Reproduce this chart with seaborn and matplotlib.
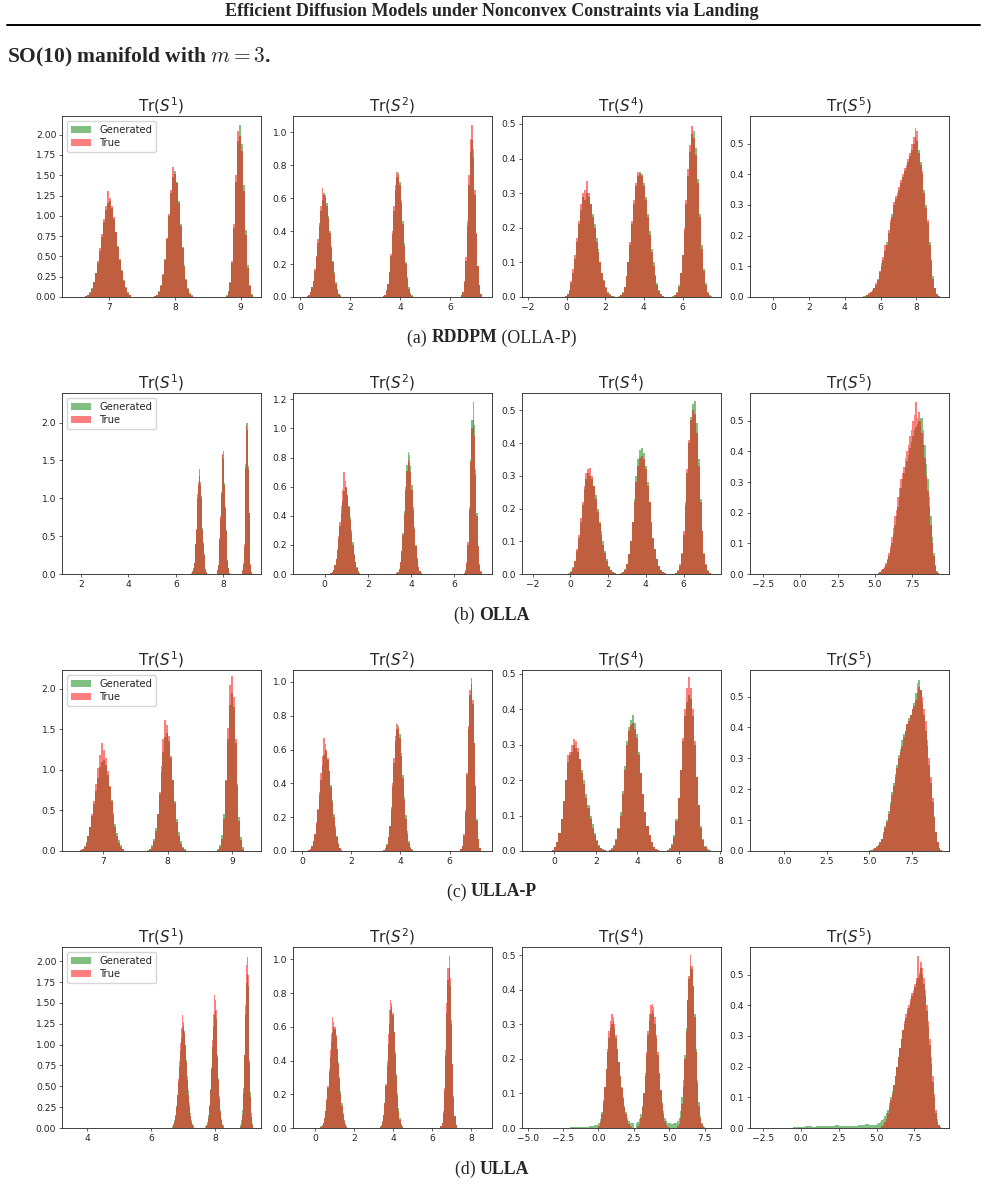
import numpy as np
import matplotlib
matplotlib.use("Agg")
import matplotlib.pyplot as plt
from matplotlib.ticker import MultipleLocator
from matplotlib.lines import Line2D
import seaborn as sns

# ---------------- data ----------------
titles = [r"Tr($S^1$)", r"Tr($S^2$)", r"Tr($S^4$)", r"Tr($S^5$)"]
captions = [("(a) ", "RDDPM", " (OLLA-P)"), ("(b) ", "OLLA", ""),
            ("(c) ", "ULLA-P", ""), ("(d) ", "ULLA", "")]
series_labels = ["Generated", "True"]

# peak centres and bin width of each peak, per statistic
s1_center, s1_w = [6.98, 7.98, 8.98], [0.03, 0.03, 0.03]
s2_center, s2_w = [0.95, 3.9, 6.85], [0.06, 0.06, 0.06]
s4_center, s4_w = [1.2, 3.85, 6.5], [0.1, 0.1, 0.1]
s5_center, s5_w = [7.15], [0.1]

# (a) RDDPM (OLLA-P)
a_s1_gen = [[0.01, 0.03, 0.06, 0.11, 0.19, 0.29, 0.42, 0.57, 0.74, 0.92, 1.07, 1.16, 1.18, 1.10, 0.96, 0.80,
             0.63, 0.47, 0.33, 0.21, 0.12, 0.06, 0.02],
            [0.01, 0.03, 0.07, 0.15, 0.28, 0.47, 0.72, 1.00, 1.28, 1.48, 1.55, 1.42, 1.18, 0.90, 0.62, 0.39,
             0.22, 0.11, 0.05, 0.02],
            [0.02, 0.07, 0.18, 0.42, 0.85, 1.42, 1.92, 2.12, 1.88, 1.38, 0.82, 0.40, 0.15, 0.04]]
a_s1_true = [[0.01, 0.02, 0.05, 0.10, 0.18, 0.30, 0.44, 0.60, 0.78, 0.96, 1.12, 1.30, 1.22, 1.12, 0.98, 0.80,
              0.62, 0.46, 0.32, 0.20, 0.11, 0.05, 0.02],
             [0.01, 0.02, 0.06, 0.14, 0.27, 0.46, 0.73, 1.02, 1.32, 1.60, 1.52, 1.40, 1.16, 0.88, 0.60, 0.37,
              0.21, 0.10, 0.04, 0.01],
             [0.01, 0.06, 0.17, 0.44, 0.90, 1.50, 2.05, 1.98, 1.80, 1.30, 0.76, 0.36, 0.13, 0.03]]
a_s2_gen = [[0.005, 0.015, 0.03, 0.06, 0.10, 0.16, 0.24, 0.33, 0.43, 0.52, 0.59, 0.63, 0.62, 0.57, 0.49, 0.40,
             0.31, 0.22, 0.15, 0.09, 0.05, 0.02, 0.01],
            [0.005, 0.015, 0.04, 0.08, 0.15, 0.25, 0.38, 0.52, 0.65, 0.73, 0.75, 0.70, 0.59, 0.46, 0.33, 0.21,
             0.12, 0.06, 0.025, 0.01],
            [0.01, 0.03, 0.09, 0.22, 0.43, 0.68, 0.88, 0.95, 0.84, 0.62, 0.38, 0.19, 0.07, 0.02]]
a_s2_true = [[0.004, 0.012, 0.03, 0.06, 0.10, 0.17, 0.25, 0.35, 0.45, 0.55, 0.66, 0.62, 0.60, 0.55, 0.48, 0.39,
              0.30, 0.21, 0.14, 0.08, 0.045, 0.02, 0.008],
             [0.004, 0.013, 0.035, 0.08, 0.15, 0.26, 0.40, 0.55, 0.68, 0.76, 0.74, 0.68, 0.57, 0.44, 0.31, 0.20,
              0.11, 0.05, 0.02, 0.008],
             [0.01, 0.03, 0.10, 0.24, 0.46, 0.74, 0.96, 1.04, 0.90, 0.65, 0.39, 0.19, 0.07, 0.02]]
a_s4_gen = [[0.003, 0.01, 0.02, 0.04, 0.07, 0.11, 0.16, 0.21, 0.25, 0.29, 0.28, 0.30, 0.29, 0.27, 0.24, 0.21,
             0.17, 0.14, 0.10, 0.07, 0.05, 0.03, 0.015, 0.008, 0.004, 0.002],
            [0.002, 0.006, 0.015, 0.03, 0.06, 0.10, 0.15, 0.21, 0.27, 0.32, 0.35, 0.36, 0.355, 0.33, 0.29,
             0.24, 0.19, 0.14, 0.10, 0.065, 0.04, 0.02, 0.01, 0.004],
            [0.002, 0.006, 0.015, 0.035, 0.07, 0.12, 0.19, 0.27, 0.35, 0.42, 0.47, 0.48, 0.43, 0.34, 0.24,
             0.15, 0.08, 0.04, 0.015, 0.005, 0.002]]
a_s4_true = [[0.002, 0.008, 0.02, 0.045, 0.08, 0.12, 0.17, 0.22, 0.27, 0.30, 0.31, 0.335, 0.30, 0.27, 0.23, 0.20,
              0.16, 0.13, 0.10, 0.07, 0.045, 0.025, 0.013, 0.007, 0.003, 0.001],
             [0.001, 0.005, 0.013, 0.03, 0.06, 0.10, 0.16, 0.22, 0.28, 0.33, 0.36, 0.355, 0.35, 0.32, 0.28,
              0.23, 0.18, 0.13, 0.09, 0.06, 0.035, 0.018, 0.008, 0.003],
             [0.001, 0.005, 0.013, 0.03, 0.07, 0.12, 0.20, 0.28, 0.37, 0.44, 0.495, 0.46, 0.41, 0.33, 0.23,
              0.14, 0.075, 0.035, 0.013, 0.004, 0.001]]
a_s5_gen = [[0.002, 0.004, 0.006, 0.01, 0.015, 0.02, 0.03, 0.04, 0.06, 0.08, 0.10, 0.12, 0.15, 0.18, 0.21,
             0.24, 0.27, 0.30, 0.32, 0.34, 0.35, 0.37, 0.39, 0.41, 0.42, 0.44, 0.46, 0.48, 0.50, 0.52,
             0.51, 0.48, 0.44, 0.40, 0.35, 0.30, 0.24, 0.18, 0.12, 0.07, 0.03, 0.01, 0.003]]
a_s5_true = [[0.001, 0.003, 0.007, 0.012, 0.016, 0.022, 0.028, 0.045, 0.055, 0.085, 0.11, 0.13, 0.17, 0.17, 0.22,
              0.25, 0.26, 0.31, 0.33, 0.33, 0.36, 0.38, 0.40, 0.42, 0.43, 0.45, 0.47, 0.50, 0.52, 0.55,
              0.54, 0.47, 0.43, 0.41, 0.34, 0.29, 0.25, 0.17, 0.12, 0.06, 0.03, 0.01, 0.002]]

# (b) OLLA
b_s1_gen = [[0.01, 0.02, 0.04, 0.08, 0.15, 0.26, 0.40, 0.58, 0.79, 1.00, 1.18, 1.30, 1.33, 1.22, 1.03, 0.82,
             0.61, 0.42, 0.27, 0.15, 0.07, 0.03, 0.01],
            [0.00, 0.02, 0.05, 0.12, 0.25, 0.45, 0.73, 1.05, 1.36, 1.57, 1.63, 1.48, 1.20, 0.88, 0.58, 0.34,
             0.18, 0.08, 0.03, 0.01],
            [0.01, 0.04, 0.13, 0.35, 0.78, 1.40, 2.00, 2.27, 2.00, 1.42, 0.80, 0.36, 0.12, 0.03]]
b_s1_true = [[0.00, 0.01, 0.03, 0.07, 0.14, 0.25, 0.40, 0.60, 0.82, 1.05, 1.22, 1.38, 1.28, 1.18, 1.00, 0.79,
              0.58, 0.40, 0.25, 0.14, 0.07, 0.03, 0.01],
             [0.00, 0.02, 0.05, 0.12, 0.26, 0.47, 0.76, 1.08, 1.36, 1.58, 1.52, 1.42, 1.18, 0.87, 0.57, 0.33,
              0.17, 0.08, 0.03, 0.01],
             [0.01, 0.05, 0.15, 0.40, 0.85, 1.45, 1.95, 2.10, 1.90, 1.38, 0.80, 0.38, 0.13, 0.03]]
b_s2_gen = [[0.004, 0.012, 0.03, 0.06, 0.10, 0.16, 0.24, 0.33, 0.42, 0.50, 0.57, 0.60, 0.59, 0.54, 0.47, 0.39,
             0.30, 0.22, 0.14, 0.08, 0.045, 0.02, 0.008],
            [0.004, 0.013, 0.035, 0.08, 0.16, 0.28, 0.43, 0.60, 0.75, 0.84, 0.82, 0.74, 0.61, 0.46, 0.32, 0.20,
             0.11, 0.05, 0.02, 0.007],
            [0.005, 0.02, 0.07, 0.20, 0.44, 0.78, 1.06, 1.18, 1.02, 0.72, 0.42, 0.19, 0.06, 0.015]]
b_s2_true = [[0.004, 0.012, 0.03, 0.06, 0.10, 0.17, 0.26, 0.36, 0.47, 0.58, 0.70, 0.64, 0.60, 0.54, 0.46, 0.37,
              0.28, 0.20, 0.13, 0.08, 0.04, 0.02, 0.007],
             [0.004, 0.013, 0.035, 0.08, 0.16, 0.27, 0.41, 0.57, 0.71, 0.78, 0.76, 0.70, 0.58, 0.44, 0.31, 0.19,
              0.10, 0.05, 0.02, 0.007],
             [0.006, 0.025, 0.08, 0.22, 0.46, 0.77, 1.00, 1.06, 0.95, 0.68, 0.40, 0.19, 0.07, 0.02]]
b_s4_gen = [[0.002, 0.008, 0.02, 0.04, 0.07, 0.11, 0.16, 0.21, 0.26, 0.29, 0.31, 0.30, 0.29, 0.27, 0.24, 0.20,
             0.16, 0.13, 0.10, 0.07, 0.045, 0.025, 0.012, 0.006, 0.003, 0.001],
            [0.002, 0.006, 0.015, 0.03, 0.06, 0.10, 0.16, 0.23, 0.30, 0.35, 0.38, 0.385, 0.37, 0.33, 0.28,
             0.22, 0.16, 0.11, 0.075, 0.045, 0.025, 0.012, 0.005, 0.002],
            [0.001, 0.004, 0.01, 0.025, 0.06, 0.12, 0.21, 0.31, 0.40, 0.48, 0.52, 0.53, 0.46, 0.35, 0.23,
             0.13, 0.065, 0.03, 0.012, 0.004, 0.001]]
b_s4_true = [[0.001, 0.006, 0.018, 0.04, 0.075, 0.12, 0.17, 0.22, 0.27, 0.31, 0.32, 0.325, 0.30, 0.27, 0.23,
              0.19, 0.155, 0.12, 0.09, 0.065, 0.04, 0.022, 0.011, 0.005, 0.002, 0.001],
             [0.001, 0.005, 0.013, 0.03, 0.06, 0.10, 0.16, 0.22, 0.28, 0.33, 0.355, 0.36, 0.35, 0.32, 0.27,
              0.22, 0.16, 0.11, 0.075, 0.045, 0.025, 0.012, 0.005, 0.002],
             [0.001, 0.004, 0.012, 0.03, 0.065, 0.13, 0.22, 0.32, 0.41, 0.47, 0.50, 0.49, 0.43, 0.33, 0.22,
              0.13, 0.06, 0.027, 0.01, 0.003, 0.001]]
b_s5_gen = [[0.0, 0.0, 0.002, 0.005, 0.01, 0.015, 0.02, 0.03, 0.045, 0.06, 0.08, 0.10, 0.13, 0.16, 0.19,
             0.22, 0.25, 0.28, 0.31, 0.33, 0.35, 0.37, 0.39, 0.41, 0.43, 0.45, 0.47, 0.48, 0.49, 0.50,
             0.51, 0.51, 0.47, 0.42, 0.36, 0.31, 0.25, 0.19, 0.12, 0.07, 0.03, 0.01, 0.003]]
b_s5_true = [[0.0, 0.0, 0.003, 0.006, 0.012, 0.016, 0.024, 0.035, 0.05, 0.07, 0.09, 0.12, 0.15, 0.19, 0.21,
              0.25, 0.28, 0.31, 0.33, 0.35, 0.38, 0.40, 0.42, 0.45, 0.47, 0.50, 0.52, 0.56, 0.51, 0.53,
              0.50, 0.46, 0.42, 0.38, 0.32, 0.27, 0.22, 0.16, 0.10, 0.06, 0.025, 0.008, 0.002]]

# (c) ULLA-P
c_s1_gen = [[0.01, 0.03, 0.06, 0.11, 0.19, 0.30, 0.43, 0.58, 0.74, 0.90, 1.03, 1.10, 1.12, 1.06, 0.94, 0.79,
             0.63, 0.47, 0.33, 0.22, 0.13, 0.07, 0.03],
            [0.01, 0.03, 0.07, 0.15, 0.28, 0.46, 0.70, 0.97, 1.22, 1.40, 1.45, 1.36, 1.14, 0.88, 0.62, 0.40,
             0.23, 0.12, 0.05, 0.02],
            [0.02, 0.08, 0.20, 0.45, 0.86, 1.38, 1.80, 1.95, 1.78, 1.33, 0.82, 0.42, 0.17, 0.05]]
c_s1_true = [[0.01, 0.02, 0.05, 0.10, 0.18, 0.30, 0.45, 0.62, 0.82, 1.02, 1.18, 1.33, 1.25, 1.15, 0.99, 0.80,
              0.61, 0.44, 0.30, 0.18, 0.10, 0.05, 0.02],
             [0.00, 0.02, 0.05, 0.12, 0.25, 0.45, 0.73, 1.05, 1.38, 1.62, 1.55, 1.42, 1.17, 0.88, 0.59, 0.36,
              0.19, 0.09, 0.04, 0.01],
             [0.01, 0.05, 0.15, 0.40, 0.88, 1.52, 2.05, 2.15, 1.90, 1.38, 0.80, 0.37, 0.13, 0.03]]
c_s2_gen = [[0.004, 0.012, 0.03, 0.06, 0.10, 0.16, 0.24, 0.33, 0.42, 0.51, 0.57, 0.60, 0.59, 0.54, 0.47, 0.39,
             0.30, 0.22, 0.15, 0.09, 0.05, 0.02, 0.008],
            [0.005, 0.015, 0.04, 0.08, 0.15, 0.25, 0.38, 0.52, 0.65, 0.72, 0.74, 0.69, 0.58, 0.45, 0.32, 0.21,
             0.12, 0.06, 0.025, 0.01],
            [0.01, 0.03, 0.09, 0.23, 0.45, 0.72, 0.92, 0.99, 0.87, 0.64, 0.39, 0.19, 0.07, 0.02]]
c_s2_true = [[0.004, 0.012, 0.03, 0.06, 0.10, 0.17, 0.25, 0.35, 0.46, 0.56, 0.67, 0.63, 0.60, 0.55, 0.47, 0.38,
              0.29, 0.20, 0.13, 0.08, 0.04, 0.02, 0.007],
             [0.004, 0.013, 0.035, 0.08, 0.15, 0.26, 0.40, 0.55, 0.68, 0.75, 0.73, 0.67, 0.56, 0.43, 0.30, 0.19,
              0.10, 0.05, 0.02, 0.008],
             [0.01, 0.03, 0.10, 0.24, 0.46, 0.74, 0.95, 1.02, 0.89, 0.64, 0.38, 0.18, 0.07, 0.02]]
c_s4_gen = [[0.004, 0.01, 0.025, 0.05, 0.09, 0.14, 0.20, 0.25, 0.27, 0.28, 0.30, 0.29, 0.28, 0.26, 0.23, 0.20,
             0.16, 0.13, 0.10, 0.075, 0.05, 0.03, 0.017, 0.009, 0.005, 0.003],
            [0.003, 0.008, 0.018, 0.035, 0.065, 0.11, 0.17, 0.24, 0.31, 0.35, 0.37, 0.385, 0.36, 0.33, 0.28,
             0.22, 0.16, 0.11, 0.07, 0.045, 0.025, 0.012, 0.006, 0.003],
            [0.003, 0.008, 0.02, 0.045, 0.09, 0.15, 0.23, 0.31, 0.38, 0.42, 0.44, 0.43, 0.38, 0.30, 0.21,
             0.13, 0.07, 0.035, 0.015, 0.006, 0.002]]
c_s4_true = [[0.003, 0.01, 0.025, 0.05, 0.09, 0.14, 0.20, 0.27, 0.28, 0.30, 0.315, 0.31, 0.29, 0.26, 0.22, 0.19,
              0.15, 0.12, 0.09, 0.065, 0.045, 0.027, 0.015, 0.008, 0.004, 0.002],
             [0.002, 0.006, 0.015, 0.032, 0.062, 0.10, 0.16, 0.23, 0.30, 0.34, 0.355, 0.36, 0.345, 0.32, 0.27,
              0.22, 0.16, 0.11, 0.07, 0.045, 0.025, 0.012, 0.005, 0.002],
             [0.002, 0.006, 0.017, 0.04, 0.085, 0.15, 0.23, 0.32, 0.40, 0.46, 0.49, 0.46, 0.40, 0.31, 0.21,
              0.13, 0.065, 0.03, 0.012, 0.004, 0.001]]
c_s5_gen = [[0.002, 0.004, 0.006, 0.01, 0.015, 0.02, 0.03, 0.04, 0.06, 0.08, 0.10, 0.13, 0.16, 0.19, 0.22,
             0.25, 0.28, 0.31, 0.33, 0.36, 0.38, 0.39, 0.41, 0.43, 0.44, 0.46, 0.48, 0.51, 0.545, 0.555,
             0.52, 0.48, 0.44, 0.39, 0.34, 0.28, 0.22, 0.16, 0.11, 0.06, 0.03, 0.01, 0.003]]
c_s5_true = [[0.001, 0.003, 0.005, 0.009, 0.013, 0.02, 0.028, 0.04, 0.055, 0.075, 0.095, 0.12, 0.15, 0.18, 0.21,
              0.24, 0.27, 0.30, 0.32, 0.34, 0.37, 0.39, 0.41, 0.42, 0.44, 0.46, 0.47, 0.49, 0.51, 0.53,
              0.52, 0.50, 0.46, 0.42, 0.36, 0.30, 0.24, 0.17, 0.11, 0.06, 0.03, 0.01, 0.003]]

# (d) ULLA
d_s1_gen = [[0.02, 0.03, 0.05, 0.09, 0.16, 0.26, 0.39, 0.55, 0.73, 0.92, 1.08, 1.19, 1.22, 1.14, 0.99, 0.81,
             0.62, 0.45, 0.30, 0.18, 0.10, 0.05, 0.03],
            [0.02, 0.03, 0.07, 0.15, 0.28, 0.47, 0.71, 0.97, 1.21, 1.36, 1.40, 1.31, 1.10, 0.85, 0.60, 0.38,
             0.22, 0.11, 0.05, 0.03],
            [0.03, 0.09, 0.22, 0.48, 0.88, 1.36, 1.74, 1.85, 1.70, 1.30, 0.82, 0.43, 0.18, 0.06]]
d_s1_true = [[0.00, 0.01, 0.03, 0.07, 0.14, 0.25, 0.40, 0.59, 0.80, 1.02, 1.20, 1.35, 1.27, 1.16, 0.99, 0.79,
              0.58, 0.40, 0.25, 0.14, 0.07, 0.03, 0.01],
             [0.00, 0.02, 0.05, 0.12, 0.25, 0.45, 0.73, 1.05, 1.37, 1.60, 1.54, 1.42, 1.17, 0.87, 0.58, 0.35,
              0.19, 0.09, 0.04, 0.01],
             [0.01, 0.05, 0.16, 0.42, 0.88, 1.48, 1.96, 2.05, 1.84, 1.34, 0.78, 0.37, 0.13, 0.03]]
d_s2_gen = [[0.01, 0.015, 0.03, 0.06, 0.10, 0.16, 0.24, 0.33, 0.42, 0.51, 0.57, 0.60, 0.59, 0.54, 0.47, 0.39,
             0.30, 0.22, 0.15, 0.09, 0.05, 0.025, 0.012],
            [0.01, 0.018, 0.04, 0.08, 0.15, 0.25, 0.37, 0.50, 0.62, 0.70, 0.72, 0.67, 0.57, 0.45, 0.32, 0.21,
             0.12, 0.06, 0.025, 0.012],
            [0.012, 0.03, 0.09, 0.22, 0.43, 0.68, 0.88, 0.95, 0.84, 0.62, 0.38, 0.19, 0.07, 0.02]]
d_s2_true = [[0.003, 0.01, 0.03, 0.06, 0.10, 0.17, 0.25, 0.35, 0.46, 0.56, 0.66, 0.63, 0.60, 0.55, 0.47, 0.38,
              0.29, 0.20, 0.13, 0.08, 0.04, 0.02, 0.007],
             [0.004, 0.013, 0.035, 0.08, 0.15, 0.26, 0.40, 0.56, 0.70, 0.76, 0.74, 0.68, 0.57, 0.44, 0.31, 0.19,
              0.10, 0.05, 0.02, 0.008],
             [0.01, 0.03, 0.10, 0.24, 0.46, 0.74, 0.95, 1.02, 0.89, 0.64, 0.38, 0.18, 0.07, 0.02]]
# Tr(S^4) in (d): three peaks, plus the faint left tail and the floor between peaks of the generated samples
d_s4_center, d_s4_w = [1.2, 3.85, 6.5, -1.05, 5.25], [0.1, 0.1, 0.1, 0.19, 0.1]
d_s4_gen = [[0.01, 0.015, 0.025, 0.045, 0.08, 0.12, 0.17, 0.22, 0.26, 0.29, 0.30, 0.31, 0.29, 0.26, 0.23, 0.19,
             0.15, 0.12, 0.09, 0.065, 0.045, 0.03, 0.02, 0.015, 0.015, 0.015],
            [0.015, 0.018, 0.025, 0.04, 0.065, 0.10, 0.15, 0.21, 0.27, 0.31, 0.33, 0.34, 0.33, 0.30, 0.26,
             0.21, 0.16, 0.11, 0.075, 0.05, 0.03, 0.02, 0.015, 0.015],
            [0.015, 0.02, 0.03, 0.05, 0.09, 0.14, 0.21, 0.29, 0.37, 0.43, 0.47, 0.46, 0.41, 0.33, 0.23,
             0.14, 0.075, 0.035, 0.015, 0.005, 0.002],
            [0.002, 0.003, 0.002, 0.004, 0.003, 0.004, 0.004, 0.005, 0.006, 0.008],
            [0.015, 0.012, 0.015, 0.015]]
d_s4_true = [[0.001, 0.006, 0.018, 0.04, 0.075, 0.12, 0.17, 0.23, 0.28, 0.31, 0.33, 0.32, 0.30, 0.27, 0.23,
              0.19, 0.15, 0.115, 0.085, 0.06, 0.04, 0.022, 0.011, 0.005, 0.002, 0.001],
             [0.001, 0.005, 0.013, 0.03, 0.06, 0.10, 0.16, 0.22, 0.28, 0.33, 0.355, 0.36, 0.35, 0.32, 0.27,
              0.22, 0.16, 0.11, 0.07, 0.04, 0.02, 0.01, 0.004, 0.001],
             [0.001, 0.005, 0.013, 0.03, 0.07, 0.12, 0.20, 0.28, 0.37, 0.44, 0.50, 0.47, 0.41, 0.32, 0.22,
              0.13, 0.065, 0.03, 0.011, 0.003, 0.001]]
# Tr(S^5) in (d): main peak plus a low tail of the generated samples
d_s5_center, d_s5_w = [7.15, 2.25], [0.1, 0.25]
d_s5_gen = [[0.012, 0.015, 0.02, 0.025, 0.03, 0.04, 0.05, 0.06, 0.08, 0.10, 0.12, 0.14, 0.17, 0.20, 0.23,
             0.26, 0.29, 0.32, 0.34, 0.36, 0.38, 0.39, 0.41, 0.43, 0.44, 0.46, 0.48, 0.49, 0.51, 0.52,
             0.50, 0.47, 0.43, 0.38, 0.33, 0.27, 0.21, 0.15, 0.10, 0.05, 0.02, 0.01, 0.002],
            [0.002, 0.004, 0.003, 0.005, 0.006, 0.004, 0.007, 0.008, 0.006, 0.005, 0.007,
             0.009, 0.006, 0.005, 0.006, 0.008, 0.007, 0.009, 0.01, 0.012, 0.01, 0.011]]
d_s5_true = [[0.0, 0.0, 0.0, 0.005, 0.01, 0.02, 0.03, 0.05, 0.07, 0.09, 0.11, 0.14, 0.17, 0.20, 0.23,
              0.26, 0.29, 0.32, 0.35, 0.37, 0.39, 0.40, 0.42, 0.44, 0.45, 0.47, 0.49, 0.56, 0.50, 0.54,
              0.52, 0.49, 0.45, 0.40, 0.35, 0.29, 0.23, 0.17, 0.11, 0.06, 0.03, 0.01, 0.002]]

rows_gen = [[a_s1_gen, a_s2_gen, a_s4_gen, a_s5_gen], [b_s1_gen, b_s2_gen, b_s4_gen, b_s5_gen],
            [c_s1_gen, c_s2_gen, c_s4_gen, c_s5_gen], [d_s1_gen, d_s2_gen, d_s4_gen, d_s5_gen]]
rows_true = [[a_s1_true, a_s2_true, a_s4_true, a_s5_true], [b_s1_true, b_s2_true, b_s4_true, b_s5_true],
             [c_s1_true, c_s2_true, c_s4_true, c_s5_true], [d_s1_true, d_s2_true, d_s4_true, d_s5_true]]
std_geom = [(s1_center, s1_w), (s2_center, s2_w), (s4_center, s4_w), (s5_center, s5_w)]
rows_geom = [std_geom] * 3 + [[(s1_center, s1_w), (s2_center, s2_w),
                               (d_s4_center, d_s4_w), (d_s5_center, d_s5_w)]]

# axis ranges and tick steps
xlims = [[(6.28, 9.31), (-0.30, 7.68), (-2.31, 7.99), (-1.31, 9.83)],
         [(1.21, 9.58), (-1.47, 7.75), (-2.56, 7.98), (-3.35, 9.95)],
         [(6.36, 9.45), (-0.36, 7.72), (-1.56, 8.05), (-2.03, 9.71)],
         [(3.21, 9.43), (-1.15, 9.08), (-5.4, 8.65), (-3.38, 9.8)]]
ylims = [[2.23, 1.097, 0.523, 0.59], [2.39, 1.243, 0.553, 0.591],
         [2.23, 1.07, 0.511, 0.586], [2.17, 1.074, 0.524, 0.59]]
xsteps = [[1, 2, 2, 2], [2, 2, 2, 2.5], [1, 2, 2, 2.5], [2, 2, 2.5, 2.5]]
ysteps = [[0.25, 0.2, 0.1, 0.1], [0.5, 0.2, 0.1, 0.1], [0.5, 0.2, 0.1, 0.1], [0.25, 0.2, 0.1, 0.1]]


def draw_peaks(ax, centers, widths, heights, color, label):
    # one histplot call per peak, each with its own bin grid
    for k, (ctr, w, h) in enumerate(zip(centers, widths, heights)):
        edges = ctr - len(h) * w / 2 + w * np.arange(len(h) + 1)
        extra = {"label": label} if k == 0 else {}
        sns.histplot(x=edges[:-1] + w / 2, weights=h, bins=list(edges), ax=ax, color=color,
                     alpha=0.5, linewidth=0, **extra)


# ---------------- figure ----------------
sns.set_style("ticks")
plt.rcParams["font.family"] = ["DejaVu Sans"]

W, H = 985, 1197
fig = plt.figure(figsize=(W / 100, H / 100), dpi=100)
col_left = [62, 293, 522, 750]
row_top = [116, 393, 670, 947]
ax_w, ax_h = 199, 181
caption_y = [338, 615, 892, 1169]

for r in range(4):
    for c in range(4):
        ax = fig.add_axes([col_left[c] / W, 1 - (row_top[r] + ax_h) / H, ax_w / W, ax_h / H])
        centers, widths = rows_geom[r][c]
        draw_peaks(ax, centers, widths, rows_gen[r][c], "green", series_labels[0])
        draw_peaks(ax, centers, widths, rows_true[r][c], "red", series_labels[1])
        ax.set_xlim(*xlims[r][c])
        ax.set_ylim(0, ylims[r][c])
        ax.xaxis.set_major_locator(MultipleLocator(xsteps[r][c]))
        ax.yaxis.set_major_locator(MultipleLocator(ysteps[r][c]))
        ax.set_ylabel("")
        ax.set_title(titles[c], fontsize=11, pad=3)
        ax.tick_params(labelsize=6.6, length=2.3, width=0.5, pad=1.8, colors="#222222")
        for sp in ax.spines.values():
            sp.set_linewidth(0.6)
            sp.set_color("#222222")
        if c == 0:
            ax.legend(loc="upper left", fontsize=7.2, handlelength=2.0, borderpad=0.4,
                      labelspacing=0.3, borderaxespad=0.5)

# header
fig.text(492 / W, 1 - 12 / H, "Efficient Diffusion Models under Nonconvex Constraints via Landing",
         ha="center", va="center", fontsize=13, fontweight="bold", family="Liberation Serif")
fig.add_artist(Line2D([7 / W, 980 / W], [1 - 25 / H, 1 - 25 / H], color="black", lw=1.4,
                      transform=fig.transFigure))
fig.text(7 / W, 1 - 57 / H, r"SO(10) manifold with $m = 3$.", ha="left", va="center",
         fontsize=15.5, fontweight="bold", family="Liberation Serif", math_fontfamily="cm")

# captions with a bold method name
renderer = fig.canvas.get_renderer()
for r, (pre, name, post) in enumerate(captions):
    parts = [(pre, "normal"), (name, "bold"), (post, "normal")]
    texts = []
    for s, wt in parts:
        if s:
            texts.append(fig.text(0, 1 - caption_y[r] / H, s.replace(" ", "\u00a0"), va="center",
                                  fontsize=12.8, fontweight=wt, family="Liberation Serif"))
    widths = [t.get_window_extent(renderer).width for t in texts]
    x0 = 492 - sum(widths) / 2
    for t, wd in zip(texts, widths):
        t.set_x(x0 / W)
        x0 += wd

fig.savefig("out.png", dpi=100)
